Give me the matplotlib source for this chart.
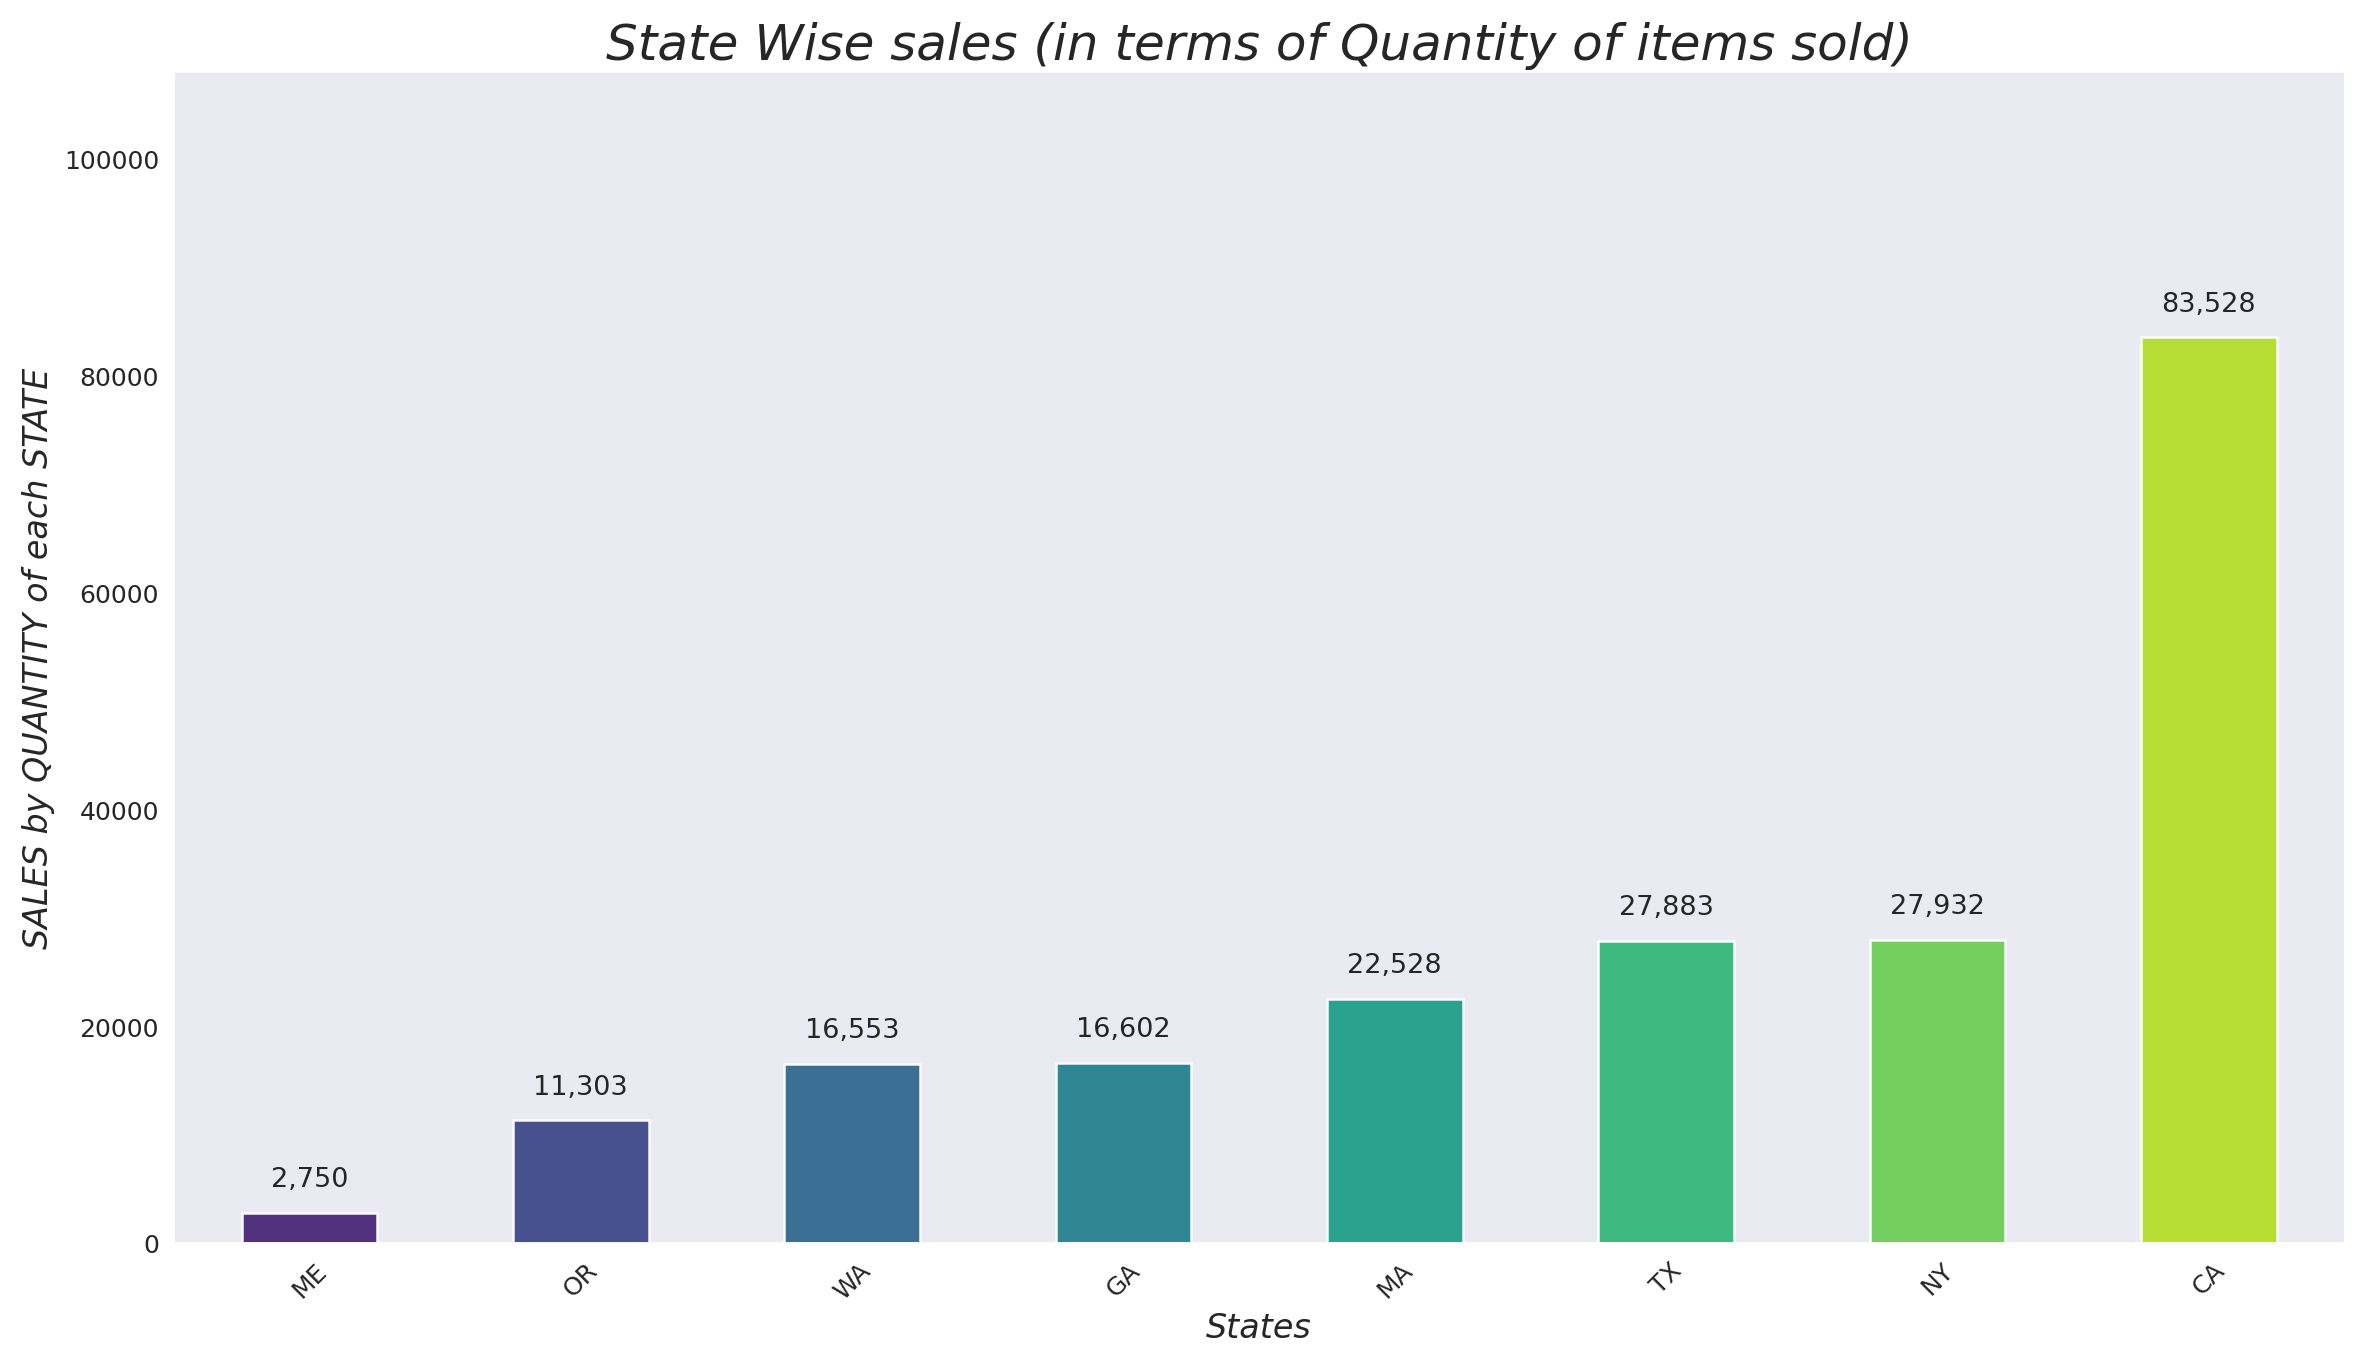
import matplotlib
matplotlib.use('Agg')
import matplotlib.pyplot as plt
import seaborn as sns

states = ['ME', 'OR', 'WA', 'GA', 'MA', 'TX', 'NY', 'CA']
quantities = [2750, 11303, 16553, 16602, 22528, 27883, 27932, 83528]

sns.set_style('dark')
colors = sns.color_palette('viridis', len(states))
fig, ax = plt.subplots(figsize=(15.78, 9.12), dpi=150)
x = range(len(states))
bars = ax.bar(x, quantities, width=0.5, color=colors, edgecolor='white', linewidth=1.2, alpha=0.95)
for xi, v in zip(x, quantities):
    ax.annotate(f'{v:,}', (xi, v), xytext=(0, 10), textcoords='offset points',
                ha='center', va='bottom', fontsize=13)
ax.set_xticks(list(x))
ax.set_xticklabels(states, rotation=45, fontsize=12)
ax.tick_params(axis='y', labelsize=12)
ax.set_xlim(-0.5, len(states) - 0.5)
ax.set_ylim(0, 108000)
ax.set_title('State Wise sales (in terms of Quantity of items sold)', fontsize=24, style='italic')
ax.set_xlabel('States', fontsize=16, style='italic')
ax.set_ylabel('SALES by QUANTITY of each STATE', fontsize=16, style='italic')
plt.tight_layout()
plt.savefig('out.png')
